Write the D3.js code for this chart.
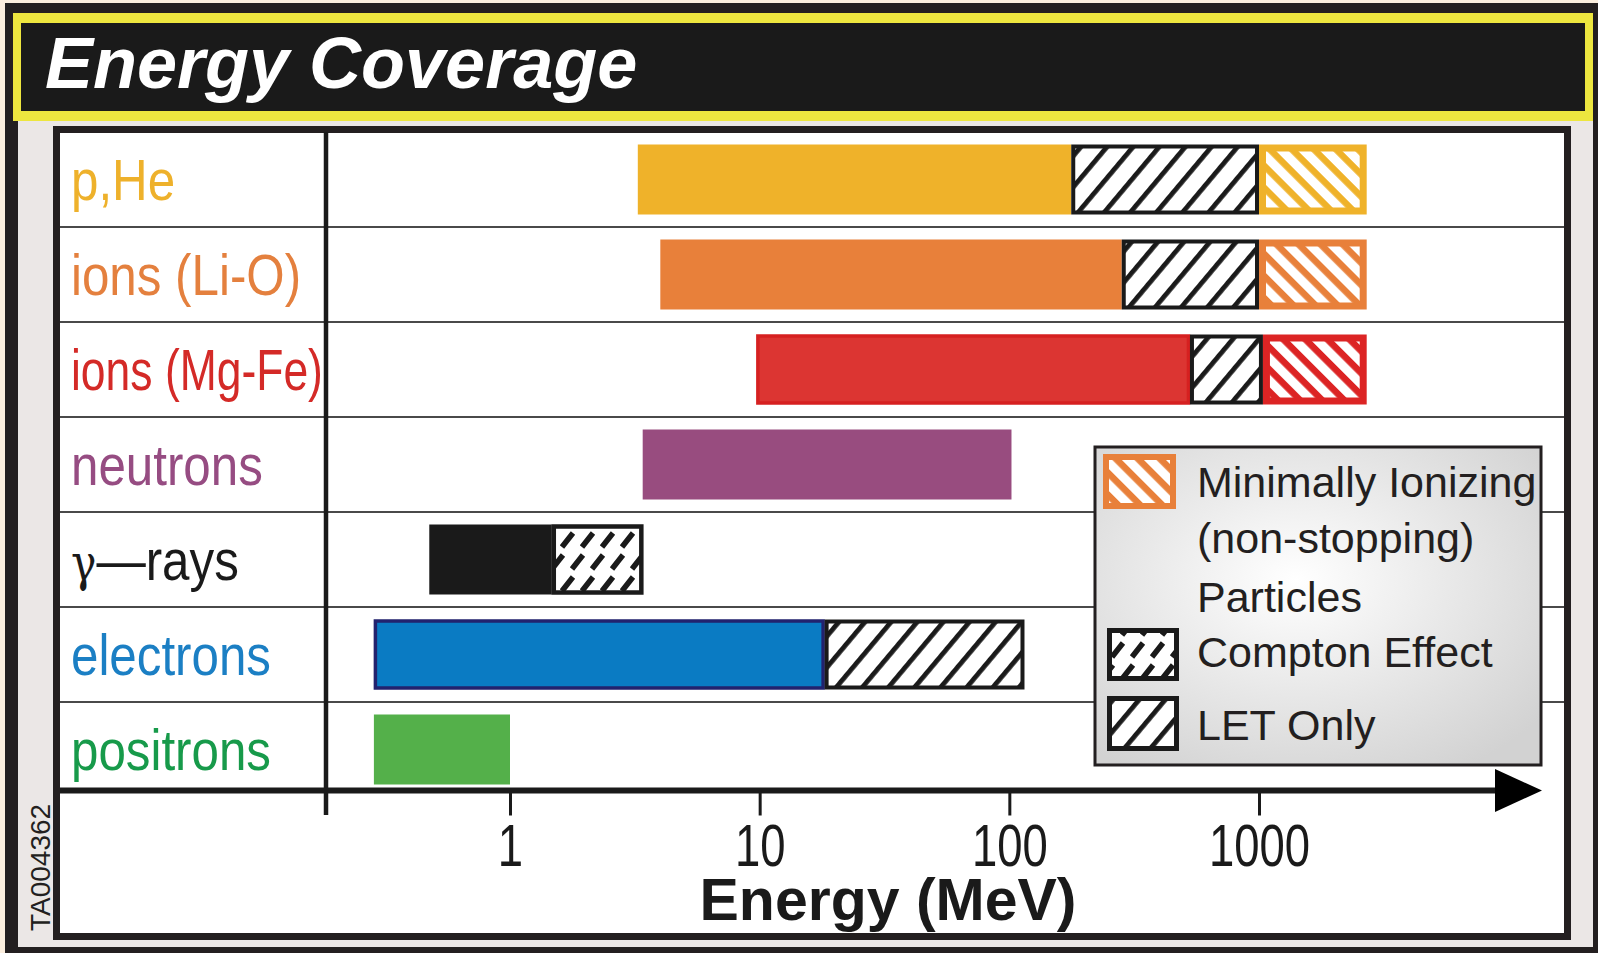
<!DOCTYPE html>
<html><head><meta charset="utf-8">
<script src="https://cdn.jsdelivr.net/npm/d3@7"></script>
<style>
html,body{margin:0;padding:0;background:#fbeede;overflow:hidden}
svg{display:block}
text{font-family:"Liberation Sans",Arial,Helvetica,sans-serif}
</style></head><body>
<svg id="chart" width="1598" height="953"></svg>
<script>
// ---------------- data ----------------
const title = "Energy Coverage";
const categories = ["p,He", "ions (Li-O)", "ions (Mg-Fe)", "neutrons", "γ—rays", "electrons", "positrons"];
// solid (fully measured) range, MeV
const solidStart = [3.25, 4.0, 9.7, 3.4, 0.475, 0.285, 0.285];
const solidEnd   = [177, 282, 529, 102, 1.47, 18.2, 1.0];
// "LET only" range continues from solidEnd
const letEnd     = [1000, 1000, 1037, null, null, 115, null];
// "Compton effect" range continues from solidEnd
const comptonEnd = [null, null, null, null, 3.42, null, null];
// "Minimally ionizing" range continues from letEnd
const mipEnd     = [2700, 2700, 2700, null, null, null, null];
const tickValues = [1, 10, 100, 1000];
const axisTitle = "Energy (MeV)";
const legendLabels = [["Minimally Ionizing", "(non-stopping)", "Particles"], ["Compton Effect"], ["LET Only"]];
const idCode = "TA004362";

// ---------------- styles ----------------
const labelColors = ["#eeb12b", "#e4803e", "#d42a27", "#964c82", "#1a1a1a", "#1b7fc4", "#179a4a"];
const barColors   = ["#efb22a", "#e8803a", "#dc3532", "#984c7f", "#1a1a1a", "#0a7bc3", "#54b04a"];
const barBorders  = [null, null, "#d62020", null, null, "#22226e", null];
const mipColors   = ["#efb22a", "#e8803a", "#dc2424"];
const ink = "#231f20";

const W = 1598, H = 953;
const svg = d3.select("#chart");
const defs = svg.append("defs");

// patterns
const pLet = defs.append("pattern").attr("id", "let").attr("patternUnits", "userSpaceOnUse")
  .attr("width", 20).attr("height", 20).attr("patternTransform", "rotate(40)");
pLet.append("rect").attr("width", 20).attr("height", 20).attr("fill", "#fff");
pLet.append("rect").attr("x", 0).attr("width", 4.8).attr("height", 20).attr("fill", "#1a1a1a");

const pMip = defs.append("pattern").attr("id", "mip").attr("patternUnits", "userSpaceOnUse")
  .attr("width", 15.6).attr("height", 15.6).attr("patternTransform", "rotate(-45)");
pMip.append("rect").attr("x", 0).attr("width", 9).attr("height", 15.6).attr("fill", "#fff");

const pCom = defs.append("pattern").attr("id", "compton").attr("patternUnits", "userSpaceOnUse")
  .attr("width", 20).attr("height", 44);
pCom.append("rect").attr("width", 20).attr("height", 44).attr("fill", "#fff");
pCom.append("path").attr("d", "M2,19L13,5M12,41L23,27M-8,41L3,27")
  .attr("stroke", "#1a1a1a").attr("stroke-width", 5.5).attr("stroke-linecap", "butt");

const grad = defs.append("radialGradient").attr("id", "legGrad")
  .attr("cx", "45%").attr("cy", "42%").attr("r", "70%");
grad.append("stop").attr("offset", "0%").attr("stop-color", "#ffffff");
grad.append("stop").attr("offset", "100%").attr("stop-color", "#d2d2d2");

// ---------------- background & frames ----------------
svg.append("rect").attr("x", 5).attr("y", 3).attr("width", W - 5).attr("height", H - 3).attr("fill", ink);
svg.append("rect").attr("x", 18).attr("y", 118).attr("width", 1575).attr("height", 829).attr("fill", "#ebe7e6");
svg.append("rect").attr("x", 13).attr("y", 13).attr("width", 1580).attr("height", 108).attr("fill", "#ede63f");
svg.append("rect").attr("x", 21).attr("y", 23).attr("width", 1564).attr("height", 88).attr("fill", "#1a1a1a");
svg.append("text").attr("x", 45).attr("y", 88).attr("fill", "#fff")
  .attr("font-size", 72).attr("font-weight", "bold").attr("font-style", "italic").text(title);

svg.append("rect").attr("x", 56.5).attr("y", 129.5).attr("width", 1511).attr("height", 807)
  .attr("fill", "#fff").attr("stroke", ink).attr("stroke-width", 7);

svg.append("text").attr("transform", "translate(50,931) rotate(-90)")
  .attr("font-size", 28).attr("fill", ink).text(idCode);

// ---------------- scales ----------------
const frameL = 60, frameR = 1564, yAxisX = 326, axisY = 790.5;
const x = d3.scaleLog().domain([1, 1000]).range([510, 1259]);
const y = d3.scaleBand().domain(categories).range([132, 797]);
const bw = y.bandwidth(), bh = 70;

// row separators
svg.append("g").selectAll("line").data(categories.slice(1)).join("line")
  .attr("x1", frameL).attr("x2", frameR).attr("y1", d => y(d)).attr("y2", d => y(d))
  .attr("stroke", "#4a4a4a").attr("stroke-width", 2);

// ---------------- bars ----------------
const gBars = svg.append("g");
categories.forEach((c, i) => {
  const top = y(c) + (bw - bh) / 2;
  const bd = barBorders[i];
  gBars.append("rect")
    .attr("x", x(solidStart[i]) + (bd ? 1.5 : 0)).attr("y", top + (bd ? 1.5 : 0))
    .attr("width", x(solidEnd[i]) - x(solidStart[i]) - (bd ? 3 : 0)).attr("height", bh - (bd ? 3 : 0))
    .attr("fill", barColors[i]).attr("stroke", bd || "none").attr("stroke-width", bd ? 3.5 : 0);
  if (letEnd[i]) {
    gBars.append("rect").attr("x", x(solidEnd[i]) + 2).attr("y", top + 2)
      .attr("width", x(letEnd[i]) - x(solidEnd[i]) - 4).attr("height", bh - 4)
      .attr("fill", "url(#let)").attr("stroke", "#1a1a1a").attr("stroke-width", 4);
  }
  if (comptonEnd[i]) {
    gBars.append("rect").attr("x", x(solidEnd[i]) + 2).attr("y", top + 2)
      .attr("width", x(comptonEnd[i]) - x(solidEnd[i]) - 4).attr("height", bh - 4)
      .attr("fill", "url(#compton)").attr("stroke", "#1a1a1a").attr("stroke-width", 4.5);
  }
  if (mipEnd[i]) {
    const x0 = x(letEnd[i]), x1 = x(mipEnd[i]);
    gBars.append("rect").attr("x", x0).attr("y", top).attr("width", x1 - x0).attr("height", bh)
      .attr("fill", mipColors[i]);
    gBars.append("rect").attr("x", x0 + 7).attr("y", top + 7).attr("width", x1 - x0 - 14).attr("height", bh - 14)
      .attr("fill", "url(#mip)");
  }
});

// ---------------- category labels ----------------
categories.forEach((c, i) => {
  const t = svg.append("text").attr("x", 0).attr("y", 0)
    .attr("font-size", 58).attr("fill", labelColors[i]);
  if (c.startsWith("γ")) {
    t.append("tspan").attr("font-family", '"DejaVu Serif",serif').attr("font-size", 50).text("γ");
    t.append("tspan").text(c.slice(1));
  } else {
    t.text(c);
  }
  const w = t.node().getComputedTextLength();
  const sx = Math.min(0.85, 252 / w);
  t.attr("transform", `translate(71,${y(c) + bw / 2 + 20}) scale(${sx},1)`);
});

// vertical divider (y axis)
svg.append("line").attr("x1", yAxisX).attr("x2", yAxisX).attr("y1", 132).attr("y2", 815)
  .attr("stroke", "#1a1a1a").attr("stroke-width", 4.5);

// ---------------- x axis ----------------
svg.append("line").attr("x1", frameL).attr("x2", 1500).attr("y1", axisY).attr("y2", axisY)
  .attr("stroke", "#1a1a1a").attr("stroke-width", 6);
svg.append("path").attr("d", `M1495,${axisY - 21.5}L1542,${axisY}L1495,${axisY + 21.5}Z`).attr("fill", "#000");

const gAxis = svg.append("g").attr("transform", `translate(0,${axisY})`)
  .call(d3.axisBottom(x).tickValues(tickValues).tickFormat(d3.format("d")).tickSize(25).tickSizeOuter(0));
gAxis.select(".domain").remove();
gAxis.selectAll(".tick line").attr("stroke", "#1a1a1a").attr("stroke-width", 3);
gAxis.selectAll(".tick text").attr("y", 76).attr("dy", 0).attr("fill", "#1a1a1a")
  .attr("font-size", 59).attr("font-family", '"Liberation Sans",Arial,sans-serif')
  .attr("transform", "scale(0.77,1)");

svg.append("text").attr("x", 888).attr("y", 920).attr("text-anchor", "middle")
  .attr("font-size", 59).attr("font-weight", "bold").attr("fill", "#1a1a1a").text(axisTitle);

// ---------------- legend ----------------
const gLeg = svg.append("g");
gLeg.append("rect").attr("x", 1095).attr("y", 447).attr("width", 446).attr("height", 318)
  .attr("fill", "url(#legGrad)").attr("stroke", ink).attr("stroke-width", 3);
gLeg.append("rect").attr("x", 1103).attr("y", 454).attr("width", 73).attr("height", 55).attr("fill", "#e8803a");
gLeg.append("rect").attr("x", 1109).attr("y", 460).attr("width", 61).attr("height", 43).attr("fill", "url(#mip)");
gLeg.append("rect").attr("x", 1109.5).attr("y", 630.5).attr("width", 67).attr("height", 48)
  .attr("fill", "url(#compton)").attr("stroke", "#1a1a1a").attr("stroke-width", 5);
gLeg.append("rect").attr("x", 1109.5).attr("y", 698.5).attr("width", 67).attr("height", 50)
  .attr("fill", "url(#let)").attr("stroke", "#1a1a1a").attr("stroke-width", 5);

const legBaselines = [[497, 553, 612], [667], [740]];
legendLabels.forEach((lines, k) => {
  lines.forEach((ln, j) => {
    gLeg.append("text").attr("x", 1197).attr("y", legBaselines[k][j])
      .attr("font-size", 43).attr("fill", ink).text(ln);
  });
});
</script>
</body></html>
